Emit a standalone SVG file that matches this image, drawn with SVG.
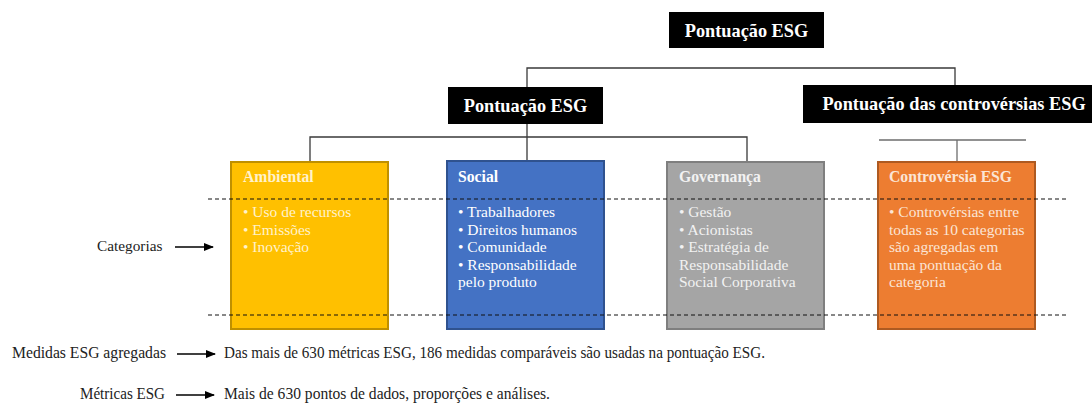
<svg xmlns="http://www.w3.org/2000/svg" width="1092" height="405" viewBox="0 0 1092 405" font-family="'Liberation Serif', 'DejaVu Serif', serif">
<style>
  text { font-family: "Liberation Serif", "DejaVu Serif", serif; }
  .hdr { fill: #000; }
  .hdrt { fill: #fff; font-weight: bold; font-size: 18.3px; text-anchor: middle; }
  .ttl { font-weight: bold; font-size: 15.7px; }
  .itm { font-size: 15.5px; }
  .lbl { font-size: 15.3px; fill: #222; }
  .lbl2 { font-size: 16px; fill: #222; }
  .conn { stroke: #3a3a3a; stroke-width: 1.3; fill: none; }
  .conn2 { stroke: #6e6e6e; stroke-width: 1.3; fill: none; }
  .dash { stroke: #111; stroke-width: 1; stroke-dasharray: 4 3; fill: none; }
  .arr { stroke: #000; stroke-width: 1.3; fill: none; }
</style>
<defs>
  <marker id="ah" markerWidth="10" markerHeight="8" refX="9" refY="4" orient="auto" markerUnits="userSpaceOnUse">
    <path d="M0,0 L10,4 L0,8 Z" fill="#000"/>
  </marker>
</defs>

<g id="connectors">
  <path class="conn" d="M527,87 V68 H955 V85"/>
  <path class="conn" d="M527,124 V161 M310,162 V137 H747 V162"/>
  <path class="conn2" d="M879,140 H1026 M957,140 V162"/>
</g>

<g id="top-score">
  <rect class="hdr" x="669" y="12" width="155" height="36"/>
  <text class="hdrt" x="746.5" y="36.5">Pontuação ESG</text>
</g>

<g id="esg-score">
  <rect class="hdr" x="448" y="87" width="155" height="37"/>
  <text class="hdrt" x="525.5" y="111.5">Pontuação ESG</text>
</g>

<g id="controversy-score">
  <rect class="hdr" x="803" y="85" width="289" height="38"/>
  <text class="hdrt" x="954" y="110">Pontuação das controvérsias ESG</text>
</g>

<g id="ambiental">
  <rect x="231" y="162" width="157" height="167" fill="#FFC000" stroke="#BF9000" stroke-width="2"/>
  <text class="ttl" x="243" y="182" fill="#FFF2CC">Ambiental</text>
  <g class="itm" fill="#FFF2CC">
    <text x="243" y="217">• Uso de recursos</text>
    <text x="243" y="234.5">• Emissões</text>
    <text x="243" y="252">• Inovação</text>
  </g>
</g>

<g id="social">
  <rect x="447" y="161" width="157" height="168" fill="#4472C4" stroke="#2F528F" stroke-width="2"/>
  <text class="ttl" x="458" y="182" fill="#fff">Social</text>
  <g class="itm" fill="#fff">
    <text x="458" y="217">• Trabalhadores</text>
    <text x="458" y="234.5">• Direitos humanos</text>
    <text x="458" y="252">• Comunidade</text>
    <text x="458" y="269.5">• Responsabilidade</text>
    <text x="458" y="287">pelo produto</text>
  </g>
</g>

<g id="governanca">
  <rect x="667" y="162" width="157" height="167" fill="#A5A5A5" stroke="#7F7F7F" stroke-width="2"/>
  <text class="ttl" x="679" y="182" fill="#F2F2F2">Governança</text>
  <g class="itm" fill="#F2F2F2">
    <text x="679" y="217">• Gestão</text>
    <text x="679" y="234.5">• Acionistas</text>
    <text x="679" y="252">• Estratégia de</text>
    <text x="679" y="269.5">Responsabilidade</text>
    <text x="679" y="287">Social Corporativa</text>
  </g>
</g>

<g id="controversia">
  <rect x="878" y="162" width="157" height="167" fill="#ED7D31" stroke="#AE5A21" stroke-width="2"/>
  <text class="ttl" x="889" y="182" fill="#FBE5D6">Controvérsia ESG</text>
  <g class="itm" fill="#FBE5D6">
    <text x="889" y="217">• Controvérsias entre</text>
    <text x="889" y="234.5">todas as 10 categorias</text>
    <text x="889" y="252">são agregadas  em</text>
    <text x="889" y="269.5">uma pontuação da</text>
    <text x="889" y="287">categoria</text>
  </g>
</g>

<g id="dashed-lines">
  <line class="dash" x1="208" y1="199" x2="1066" y2="199"/>
  <line class="dash" x1="208" y1="315" x2="1066" y2="315"/>
</g>

<g id="categorias-label">
  <text class="lbl" x="97" y="251">Categorias</text>
  <line class="arr" x1="175" y1="247" x2="213" y2="247" marker-end="url(#ah)"/>
</g>

<g id="medidas-label">
  <text class="lbl2" x="12" y="358" textLength="154" lengthAdjust="spacingAndGlyphs">Medidas ESG agregadas</text>
  <line class="arr" x1="177" y1="354" x2="215" y2="354" marker-end="url(#ah)"/>
  <text class="lbl2" x="224" y="358" textLength="541" lengthAdjust="spacingAndGlyphs">Das mais de 630 métricas ESG, 186 medidas comparáveis são usadas na pontuação ESG.</text>
</g>

<g id="metricas-label">
  <text class="lbl2" x="80" y="399" textLength="85" lengthAdjust="spacingAndGlyphs">Métricas ESG</text>
  <line class="arr" x1="176" y1="395" x2="214" y2="395" marker-end="url(#ah)"/>
  <text class="lbl2" x="224" y="399" textLength="326" lengthAdjust="spacingAndGlyphs">Mais de 630 pontos de dados, proporções e análises.</text>
</g>
</svg>
